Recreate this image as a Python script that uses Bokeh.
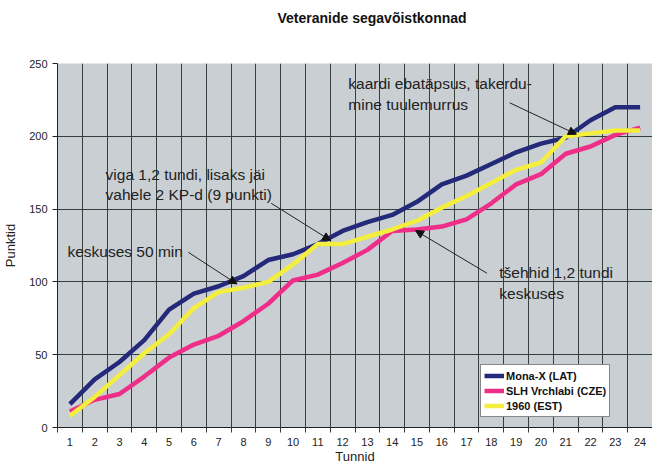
from bokeh.plotting import figure
from bokeh.models import (Range1d, FixedTicker, Legend, LegendItem, Label, Arrow,
                          NormalHead, ColumnDataSource, Title)
from bokeh.embed import file_html
from bokeh.resources import INLINE

# ---- data ----
hours = list(range(1, 25))
mona_x = [16, 33, 45, 60, 81, 92, 97, 104, 115, 119, 126, 135,
          141, 146, 155, 167, 173, 181, 189, 195, 199, 211, 220, 220]
slh = [11, 19, 23, 35, 48, 57, 63, 73, 85, 101, 105, 113,
       122, 135, 136, 138, 143, 154, 167, 174, 188, 193, 201, 206]
est1960 = [8, 21, 36, 51, 64, 82, 93, 96, 100, 112, 126, 126,
           131, 136, 142, 151, 159, 168, 177, 182, 200, 202, 204, 204]
series_names = ["Mona-X (LAT)", "SLH Vrchlabi (CZE)", "1960 (EST)"]
y_ticks = [0, 50, 100, 150, 200, 250]
title_text = "Veteranide segavõistkonnad"

FONT = "Liberation Sans"
GRID = "#33403c"

p = figure(title=None, width=652, height=466, output_backend="svg", toolbar_location=None,
           x_range=Range1d(0.5, 24.5), y_range=Range1d(0, 250),
           min_border_left=50, min_border_right=0, min_border_top=63,
           min_border_bottom=34)

p.background_fill_color = "#c9cfd3"
p.border_fill_color = "white"
p.outline_line_color = None

# spacer between frame and title, then the title itself (stacked outward)
p.add_layout(Title(text=" ", text_font=FONT, text_font_size="10px", standoff=23,
                   text_color="white"), "above")
p.add_layout(Title(text=title_text, text_font=FONT, text_font_size="14px",
                   text_font_style="bold", text_color="#111111", align="left",
                   offset=220, vertical_align="top", standoff=0), "above")

# x axis
p.xaxis.ticker = FixedTicker(ticks=hours, minor_ticks=[h - 0.5 for h in hours] + [24.5])
p.xaxis.major_tick_out = 0
p.xaxis.major_tick_in = 0
p.xaxis.minor_tick_out = 5
p.xaxis.minor_tick_in = 0
p.xaxis.minor_tick_line_color = GRID
p.xaxis.axis_line_color = "#222222"
p.xaxis.major_label_text_font = FONT
p.xaxis.major_label_text_font_size = "11px"
p.xaxis.major_label_text_color = "#222222"
p.xaxis.major_label_standoff = 5
p.xaxis.axis_label = "Tunnid"
p.xaxis.axis_label_text_font = FONT
p.xaxis.axis_label_text_font_size = "13px"
p.xaxis.axis_label_text_font_style = "normal"
p.xaxis.axis_label_text_color = "#222222"
p.xaxis.axis_label_standoff = 0

# y axis
p.yaxis.ticker = FixedTicker(ticks=y_ticks)
p.yaxis.major_tick_out = 5
p.yaxis.major_tick_in = 0
p.yaxis.minor_tick_line_color = None
p.yaxis.axis_line_color = "#222222"
p.yaxis.major_tick_line_color = "#222222"
p.yaxis.major_label_text_font = FONT
p.yaxis.major_label_text_font_size = "11px"
p.yaxis.major_label_text_color = "#222222"
p.yaxis.axis_label = "Punktid"
p.yaxis.axis_label_text_font = FONT
p.yaxis.axis_label_text_font_size = "13px"
p.yaxis.axis_label_text_font_style = "normal"
p.yaxis.axis_label_text_color = "#222222"
p.yaxis.axis_label_standoff = 8

# grids
p.xgrid.ticker = FixedTicker(ticks=[h + 0.5 for h in hours[:-1]])
p.xgrid.grid_line_color = GRID
p.xgrid.grid_line_width = 1
p.ygrid.ticker = FixedTicker(ticks=y_ticks)
p.ygrid.grid_line_color = GRID
p.ygrid.grid_line_width = 1

src = ColumnDataSource(dict(h=hours, mona=mona_x, slh=slh, est=est1960))
colors = ["#25297a", "#ee2e88", "#f3ef3c"]
r1 = p.line("h", "mona", source=src, line_color=colors[0], line_width=4.5, line_join="round")
r2 = p.line("h", "slh", source=src, line_color=colors[1], line_width=4.5, line_join="round")
r3 = p.line("h", "est", source=src, line_color=colors[2], line_width=4.5, line_join="round")

legend = Legend(items=[LegendItem(label=series_names[0], renderers=[r1]),
                       LegendItem(label=series_names[1], renderers=[r2]),
                       LegendItem(label=series_names[2], renderers=[r3])],
                location=(423, 10))
legend.label_text_font = FONT
legend.label_text_font_size = "11px"
legend.label_text_font_style = "bold"
legend.label_text_color = "#111111"
legend.label_height = 15
legend.glyph_height = 15
legend.glyph_width = 20
legend.label_standoff = 2
legend.spacing = 0
legend.padding = 3
legend.margin = 0
legend.border_line_color = "#111111"
legend.border_line_width = 1
legend.background_fill_color = "white"
legend.background_fill_alpha = 1
p.add_layout(legend, "center")

# annotations
notes = [
    ("keskuses 50 min", 0.90, 126.4),
    ("viga 1,2 tundi, lisaks jäi\nvahele 2 KP-d (9 punkti)", 2.44, 179.7),
    ("kaardi ebatäpsus, takerdu-\nmine tuulemurrus", 12.23, 241.9),
    ("tšehhid 1,2 tundi\nkeskuses", 18.32, 112.2),
]
for txt, x, y in notes:
    p.add_layout(Label(x=x, y=y, text=txt, text_font=FONT, text_font_size="15.5px",
                       text_color="#222222", text_baseline="top", text_align="left"))

arrows = [
    (5.78, 120.3, 7.74, 98.6),
    (9.12, 154.0, 11.52, 128.4),
    (18.74, 223.0, 21.43, 201.4),
    (17.82, 106.0, 14.94, 135.3),
]
for xs, ys, xe, ye in arrows:
    p.add_layout(Arrow(x_start=xs, y_start=ys, x_end=xe, y_end=ye,
                       line_color="#222222", line_width=1,
                       end=NormalHead(size=8, fill_color="#111111", line_color="#111111")))

open("out.html", "w").write(file_html(p, INLINE))
